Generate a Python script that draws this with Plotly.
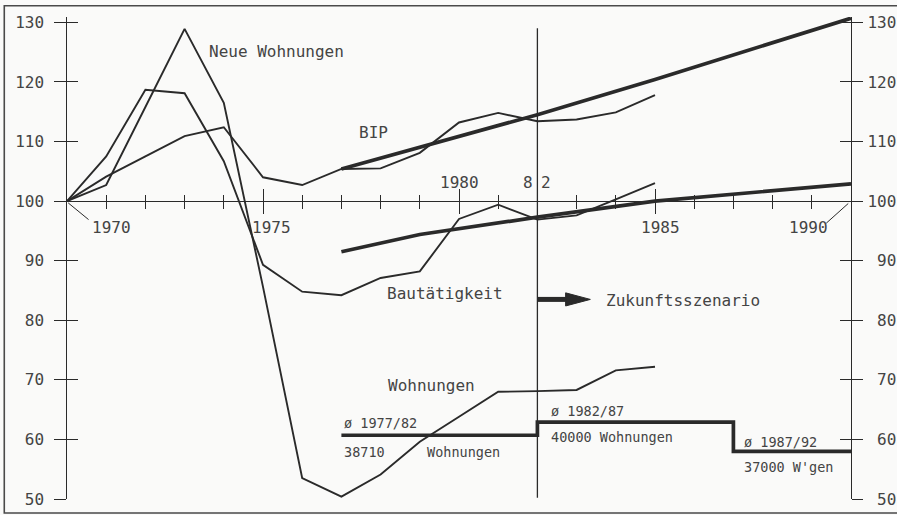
import plotly.graph_objects as go

# ---------------- data (index, 1970 = 100) ----------------
years = list(range(1970, 1986))
bip = [100, 104.1, 107.5, 110.9, 112.4, 104.0, 102.7, 105.4, 105.5, 108.1,
       113.2, 114.8, 113.4, 113.7, 114.9, 117.8]
bautaetigkeit = [100, 107.5, 118.7, 118.1, 106.7, 89.3, 84.8, 84.2, 87.1, 88.2,
                 97.0, 99.4, 96.9, 97.6, 100.3, 103.0]
neue_wohnungen = [100, 102.7, 115.8, 128.9, 116.5, 85.6, 53.5, 50.4, 54.1, 59.6,
                  63.8, 68.0, 68.1, 68.3, 71.6, 72.2]

# scenario (Zukunftsszenario)
bip_trend_years = [1977, 1982, 1985, 1990]
bip_trend = [105.4, 114.5, 120.4, 130.7]
bau_trend_years = [1977, 1979, 1982, 1985, 1990]
bau_trend = [91.5, 94.4, 97.3, 100.0, 102.9]
avg_years = [1977, 1982, 1987, 1990]
avg_index = [60.7, 62.9, 58.0, 58.0]

divider_year = [1982, 1982]
divider_range = [50.2, 129.0]

y_ticks = [50, 60, 70, 80, 90, 100, 110, 120, 130]
x_major_ticks = [1975, 1980, 1985]
x_minor_ticks = [y for y in range(1971, 1990) if y not in x_major_ticks]

# ---------------- style ----------------
LC = "#2a2a2a"
TC = "#444444"
BG = "#fafaf9"
FONT = "DejaVu Sans Mono"
Y0, Y1 = 50, 130.9

fig = go.Figure()

thin = dict(color=LC, width=1.9)
thick = dict(color=LC, width=3.7)

fig.add_trace(go.Scatter(x=years, y=bip, mode="lines", line=thin, name="BIP"))
fig.add_trace(go.Scatter(x=years, y=bautaetigkeit, mode="lines", line=thin, name="Bautätigkeit"))
fig.add_trace(go.Scatter(x=years, y=neue_wohnungen, mode="lines", line=thin, name="Neue Wohnungen"))
fig.add_trace(go.Scatter(x=bip_trend_years, y=bip_trend, mode="lines", line=thick, name="BIP Szenario"))
fig.add_trace(go.Scatter(x=bau_trend_years, y=bau_trend, mode="lines", line=thick, name="Bau Szenario"))
fig.add_trace(go.Scatter(x=avg_years, y=avg_index, mode="lines", line=dict(color=LC, width=3.7, shape="hv"),
                         name="ø Wohnungen"))
fig.add_trace(go.Scatter(x=divider_year, y=divider_range, mode="lines", line=dict(color=LC, width=1.3),
                         name="1982"))

# dummy traces so overlay axes are drawn
for xa, ya in [("x", "y2"), ("x", "y3"), ("x", "y4"), ("x2", "y")]:
    fig.add_trace(go.Scatter(x=[1980], y=[90], xaxis=xa, yaxis=ya, mode="markers",
                             marker=dict(opacity=0), hoverinfo="skip", showlegend=False))

xpos = (100 - Y0) / (Y1 - Y0)
common_x = dict(range=[1970, 1990], showgrid=False, zeroline=False, showticklabels=False,
                anchor="free", position=xpos, tickmode="array", tickvals=x_major_ticks,
                tickwidth=1.4, tickcolor=LC, automargin=False)
fig.update_layout(
    xaxis=dict(**common_x, showline=True, linecolor=LC, linewidth=1.4, ticks="outside", ticklen=11.5,
               minor=dict(tickvals=x_minor_ticks, ticks="outside", ticklen=6.5, tickwidth=1.4,
                          tickcolor=LC, showgrid=False)),
    xaxis2=dict(**common_x, overlaying="x", showline=False, ticks="inside", ticklen=12.5,
                minor=dict(tickvals=x_minor_ticks, ticks="inside", ticklen=6.5, tickwidth=1.4,
                           tickcolor=LC, showgrid=False)),
)

common_y = dict(range=[Y0, Y1], showgrid=False, zeroline=False, tickmode="array", tickvals=y_ticks,
                tickwidth=1.4, tickcolor=LC, anchor="x", automargin=False)
right_text = [("\u00a0" + str(v)) if v < 100 else str(v) for v in y_ticks]
fig.update_layout(
    yaxis=dict(**common_y, side="left", showline=True, linecolor=LC, linewidth=1.4, ticks="outside",
               ticklen=11.5, tickfont=dict(family=FONT, size=16, color=TC), ticklabelstandoff=7),
    yaxis3=dict(**common_y, side="left", overlaying="y", showline=False, ticks="inside", ticklen=10.5,
                showticklabels=False),
    yaxis2=dict(**common_y, side="right", overlaying="y", showline=True, linecolor=LC, linewidth=1.4,
                ticks="outside", ticklen=11, ticktext=right_text,
                tickfont=dict(family=FONT, size=16, color=TC), ticklabelstandoff=1),
    yaxis4=dict(**common_y, side="right", overlaying="y", showline=False, ticks="inside", ticklen=11,
                showticklabels=False),
)

# ---------------- annotations ----------------
def txt(x, y, s, size=16, xanchor="left"):
    fig.add_annotation(x=x, y=y, xref="x", yref="y", text=s, showarrow=False, xanchor=xanchor,
                       yanchor="middle", yshift=-1,
                       font=dict(family=FONT, size=size, color=TC))

txt(1973.58, 125.2, "Neue Wohnungen")
txt(1977.41, 111.6, "BIP")
txt(1980.0, 103.3, "1980", xanchor="center")
txt(1981.95, 103.3, "8", xanchor="right")
txt(1982.03, 103.3, "2", xanchor="left")
txt(1970.59, 95.8, "1970")
txt(1974.68, 95.8, "1975")
txt(1984.58, 95.8, "1985")
txt(1988.37, 95.8, "1990")
txt(1978.12, 84.6, "Bautätigkeit")
txt(1983.69, 83.5, "Zukunftsszenario")
txt(1978.15, 69.3, "Wohnungen")
txt(1977.02, 62.9, "ø 1977/82", size=13.5)
txt(1977.02, 58.0, "38710", size=13.5)
txt(1979.14, 58.0, "Wohnungen", size=13.5)
txt(1982.29, 65.0, "ø 1982/87", size=13.5)
txt(1982.29, 60.5, "40000 Wohnungen", size=13.5)
txt(1987.22, 59.7, "ø 1987/92", size=13.5)
txt(1987.22, 55.5, "37000 W'gen", size=13.5)

# leader lines for 1970 / 1990 labels
fig.add_shape(type="line", xref="x", yref="y", x0=1970.03, y0=99.7, x1=1970.55, y1=96.9,
              line=dict(color=LC, width=1))
fig.add_shape(type="line", xref="x", yref="y", x0=1989.37, y0=96.3, x1=1989.93, y1=99.6,
              line=dict(color=LC, width=1))

# arrow -> Zukunftsszenario
fig.add_shape(type="line", xref="x", yref="y", x0=1982.0, y0=83.5, x1=1982.8, y1=83.5,
              line=dict(color=LC, width=5))
fig.add_shape(type="path", xref="x", yref="y",
              path="M 1982.72,84.6 L 1983.35,83.5 L 1982.72,82.4 Z",
              fillcolor=LC, line=dict(color=LC, width=1))

# outer frame
fig.add_shape(type="rect", xref="paper", yref="paper", x0=-0.080, x1=1.1, y0=-0.029, y1=1.0232,
              line=dict(color="#4a4a4a", width=1.6), fillcolor="rgba(0,0,0,0)", layer="below")

fig.update_layout(
    width=897, height=515,
    margin=dict(l=66.7, r=46.3, t=17.2, b=15.7, pad=0, autoexpand=False),
    paper_bgcolor=BG, plot_bgcolor=BG,
    showlegend=False,
)

fig.write_html("out.html", config={"displayModeBar": False},
               post_script="document.body.style.margin='0';document.body.style.overflow='hidden';")
